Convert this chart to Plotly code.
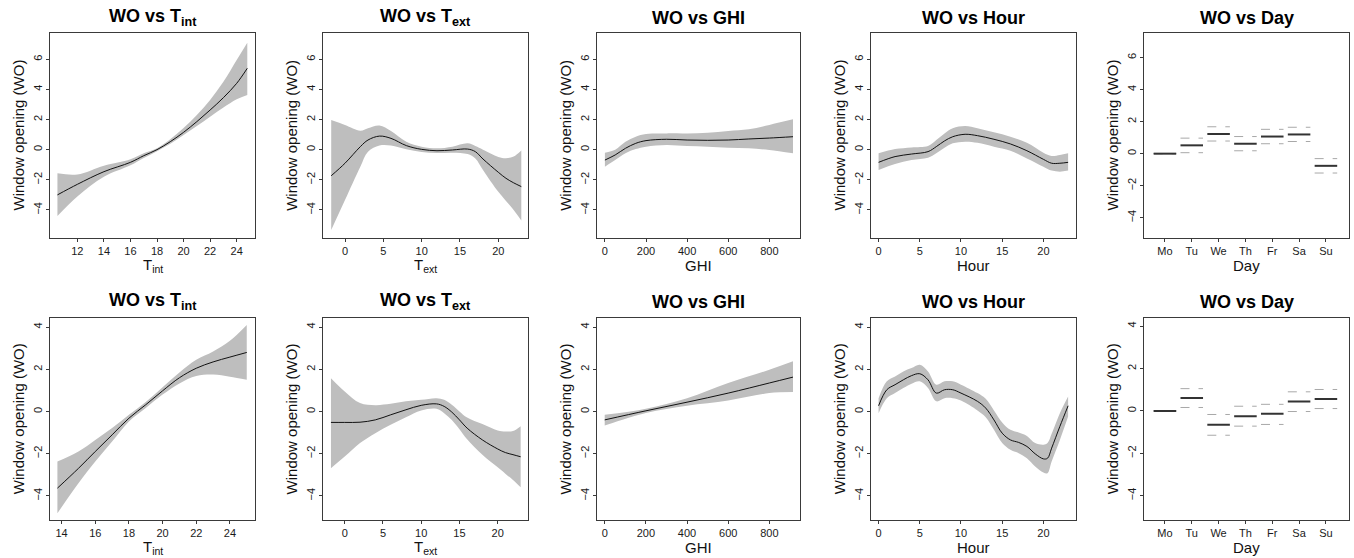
import plotly.graph_objects as go
from plotly.subplots import make_subplots

# ---------------- DATA ----------------
# Top row (model 1)
tint1_x   = [10.5, 12, 14, 16, 17, 18, 19, 20, 21, 22, 23, 24, 24.8]
tint1_fit = [-3.0, -2.3, -1.46, -0.84, -0.4, 0.0, 0.53, 1.15, 1.86, 2.63, 3.45, 4.4, 5.4]
tint1_lo  = [-4.4, -3.1, -1.8, -1.04, -0.55, -0.1, 0.4, 0.97, 1.57, 2.19, 2.79, 3.34, 3.63]
tint1_hi  = [-1.57, -1.64, -1.06, -0.64, -0.24, 0.1, 0.69, 1.44, 2.3, 3.3, 4.5, 5.95, 7.1]

text1_x   = [-1.8, 0, 2, 3, 4.5, 6, 8, 10, 12, 14, 16, 17, 18, 20, 21, 22, 23]
text1_fit = [-1.73, -0.9, 0.2, 0.64, 0.9, 0.75, 0.27, 0.02, -0.07, -0.02, 0.04, -0.13, -0.62, -1.5, -1.9, -2.2, -2.45]
text1_lo  = [-5.33, -3.34, -1.13, -0.13, 0.27, 0.27, 0.02, -0.15, -0.22, -0.2, -0.29, -0.58, -1.35, -2.8, -3.4, -4.0, -4.7]
text1_hi  = [1.97, 1.64, 1.26, 1.42, 1.6, 1.24, 0.53, 0.2, 0.09, 0.2, 0.42, 0.24, 0.0, -0.48, -0.57, -0.45, -0.05]

ghi1_x   = [0, 50, 100, 150, 200, 300, 400, 500, 600, 700, 800, 915]
ghi1_fit = [-0.69, -0.35, 0.09, 0.42, 0.6, 0.69, 0.64, 0.62, 0.64, 0.71, 0.77, 0.86]
ghi1_lo  = [-1.13, -0.69, -0.24, 0.04, 0.2, 0.31, 0.24, 0.2, 0.13, 0.09, -0.02, -0.24]
ghi1_hi  = [-0.2, 0.0, 0.53, 0.86, 1.04, 1.08, 1.08, 1.13, 1.24, 1.35, 1.64, 2.01]

hour1_x   = [0, 2, 4, 6, 7, 8, 9, 10.5, 12, 14, 16, 18, 20, 21, 22, 23]
hour1_fit = [-0.84, -0.46, -0.29, -0.13, 0.2, 0.58, 0.86, 1.02, 0.93, 0.69, 0.38, -0.07, -0.64, -0.9, -0.9, -0.84]
hour1_lo  = [-1.35, -0.95, -0.69, -0.53, -0.24, 0.13, 0.42, 0.53, 0.46, 0.2, -0.07, -0.58, -1.13, -1.39, -1.46, -1.39]
hour1_hi  = [-0.24, 0.04, 0.15, 0.24, 0.64, 1.08, 1.42, 1.57, 1.42, 1.15, 0.86, 0.46, -0.2, -0.42, -0.35, -0.24]

days = ["Mo", "Tu", "We", "Th", "Fr", "Sa", "Su"]
day1_fit = [0.0, 0.52, 1.23, 0.62, 1.07, 1.2, -0.76]
day1_lo  = [0.0, 0.06, 0.79, 0.18, 0.62, 0.76, -1.21]
day1_hi  = [0.0, 0.97, 1.68, 1.07, 1.52, 1.65, -0.31]

# Bottom row (model 2)
tint2_x   = [13.75, 15, 16, 17, 18, 19, 20, 21, 22, 23, 24, 25]
tint2_fit = [-3.64, -2.7, -1.9, -1.11, -0.32, 0.32, 0.98, 1.6, 2.05, 2.35, 2.58, 2.8]
tint2_lo  = [-4.83, -3.41, -2.38, -1.43, -0.48, 0.16, 0.8, 1.33, 1.68, 1.75, 1.65, 1.5]
tint2_hi  = [-2.38, -1.9, -1.35, -0.79, -0.16, 0.45, 1.15, 1.85, 2.45, 2.85, 3.35, 4.1]

text2_x   = [-1.8, 0, 2, 4, 6, 8, 10, 12, 13, 14, 15, 16, 18, 20, 21, 22, 23]
text2_fit = [-0.52, -0.52, -0.51, -0.4, -0.16, 0.08, 0.29, 0.36, 0.24, -0.03, -0.4, -0.79, -1.35, -1.78, -1.95, -2.05, -2.15]
text2_lo  = [-2.69, -2.14, -1.5, -1.03, -0.63, -0.27, 0.05, 0.13, -0.08, -0.4, -0.84, -1.32, -2.05, -2.65, -2.95, -3.25, -3.6]
text2_hi  = [1.58, 0.95, 0.4, 0.3, 0.36, 0.48, 0.55, 0.63, 0.55, 0.32, 0.0, -0.29, -0.6, -0.9, -0.95, -0.93, -0.7]

ghi2_x   = [0, 200, 400, 600, 800, 915]
ghi2_fit = [-0.4, 0.03, 0.44, 0.87, 1.35, 1.63]
ghi2_lo  = [-0.67, -0.07, 0.27, 0.52, 0.87, 0.92]
ghi2_hi  = [-0.16, 0.13, 0.63, 1.35, 1.98, 2.38]

hour2_x   = [0, 1, 2, 3, 4, 5, 6, 7, 8, 9, 10, 12, 13, 14, 15, 16, 17, 18, 19, 20, 20.5, 21, 22, 23]
hour2_fit = [0.27, 1.03, 1.27, 1.5, 1.7, 1.79, 1.5, 0.87, 1.03, 1.03, 0.87, 0.48, 0.16, -0.4, -1.03, -1.35, -1.47, -1.66, -2.01, -2.25, -2.22, -1.74, -0.71, 0.27]
hour2_lo  = [-0.08, 0.63, 0.88, 1.11, 1.32, 1.43, 1.11, 0.48, 0.63, 0.63, 0.52, 0.05, -0.27, -0.87, -1.5, -1.82, -1.98, -2.22, -2.61, -2.9, -2.93, -2.38, -1.35, -0.24]
hour2_hi  = [0.63, 1.43, 1.66, 1.9, 2.06, 2.22, 1.9, 1.27, 1.43, 1.43, 1.27, 0.87, 0.6, 0.05, -0.52, -0.87, -1.0, -1.16, -1.5, -1.58, -1.5, -1.06, -0.08, 0.71]

day2_fit = [0.0, 0.61, -0.66, -0.25, -0.14, 0.44, 0.56]
day2_lo  = [0.0, 0.16, -1.15, -0.72, -0.64, -0.03, 0.11]
day2_hi  = [0.0, 1.05, -0.17, 0.22, 0.31, 0.9, 1.01]

titles = ["WO vs T<sub>int</sub>", "WO vs T<sub>ext</sub>", "WO vs GHI", "WO vs Hour", "WO vs Day"]
xlabels = ["T<sub>int</sub>", "T<sub>ext</sub>", "GHI", "Hour", "Day"]
ylabel = "Window opening (WO)"

# ---------------- FIGURE ----------------
W, H = 1354, 558
BAND = "#bebebe"
fig = make_subplots(rows=2, cols=5)

def add_smooth(row, col, x, fit, lo, hi):
    fig.add_trace(go.Scatter(x=x, y=lo, mode="lines", line=dict(width=0, shape="spline", color=BAND),
                             showlegend=False, hoverinfo="skip"), row=row, col=col)
    fig.add_trace(go.Scatter(x=x, y=hi, mode="lines", line=dict(width=0, shape="spline", color=BAND),
                             fill="tonexty", fillcolor=BAND, showlegend=False, hoverinfo="skip"),
                  row=row, col=col)
    fig.add_trace(go.Scatter(x=x, y=fit, mode="lines", line=dict(width=1, shape="spline", color="#111111"),
                             showlegend=False), row=row, col=col)

def segs(vals):
    xs, ys = [], []
    for i, v in enumerate(vals):
        xs += [i + 1 - 0.42, i + 1 + 0.42, None]
        ys += [v, v, None]
    return xs, ys

def add_day(row, col, fit, lo, hi):
    for arr in (lo, hi):
        xs, ys = segs(arr)
        fig.add_trace(go.Scatter(x=xs, y=ys, mode="lines", line=dict(width=1, dash="dash", color="#a8a8a8"),
                                 showlegend=False), row=row, col=col)
    xs, ys = segs(fit)
    fig.add_trace(go.Scatter(x=xs, y=ys, mode="lines", line=dict(width=2, color="#333333"),
                             showlegend=False), row=row, col=col)

add_smooth(1, 1, tint1_x, tint1_fit, tint1_lo, tint1_hi)
add_smooth(1, 2, text1_x, text1_fit, text1_lo, text1_hi)
add_smooth(1, 3, ghi1_x, ghi1_fit, ghi1_lo, ghi1_hi)
add_smooth(1, 4, hour1_x, hour1_fit, hour1_lo, hour1_hi)
add_day(1, 5, day1_fit, day1_lo, day1_hi)
add_smooth(2, 1, tint2_x, tint2_fit, tint2_lo, tint2_hi)
add_smooth(2, 2, text2_x, text2_fit, text2_lo, text2_hi)
add_smooth(2, 3, ghi2_x, ghi2_fit, ghi2_lo, ghi2_hi)
add_smooth(2, 4, hour2_x, hour2_fit, hour2_lo, hour2_hi)
add_day(2, 5, day2_fit, day2_lo, day2_hi)

# panel geometry in pixels
lefts  = [50, 323.3, 597.3, 871, 1144]
rights = [255, 528.3, 800, 1075.7, 1349]
rows_tb = [(33, 238), (318.3, 520)]

xranges = [[9.94, 25.38], [-2.83, 23.91], [-37, 949], [-0.92, 23.92], [0.22, 7.86],
           [13.31, 25.49], [-2.8, 24.0], [-36, 949], [-0.92, 23.92], [0.22, 7.86]]
yranges = [[-5.86, 7.74]] * 4 + [[-5.27, 7.54]] + [[-5.15, 4.42]] * 4 + [[-5.15, 4.37]]
xtick_sets = [[12, 14, 16, 18, 20, 22, 24], [0, 5, 10, 15, 20], [0, 200, 400, 600, 800], [0, 5, 10, 15, 20],
              [1, 2, 3, 4, 5, 6, 7],
              [14, 16, 18, 20, 22, 24], [0, 5, 10, 15, 20], [0, 200, 400, 600, 800], [0, 5, 10, 15, 20],
              [1, 2, 3, 4, 5, 6, 7]]

FONT = "Liberation Sans, Arial, sans-serif"
axis_common = dict(showline=True, mirror=True, linecolor="#3a3a3a", linewidth=1, ticks="outside",
                   ticklen=3, tickcolor="#3a3a3a", showgrid=False, zeroline=False,
                   tickfont=dict(size=11, color="#1a1a1a", family=FONT))

annotations = []
for k in range(10):
    r, c = divmod(k, 5)
    top, bot = rows_tb[r]
    l, rr = lefts[c], rights[c]
    idx = "" if k == 0 else str(k + 1)
    xd = [l / W, rr / W]
    yd = [1 - bot / H, 1 - top / H]
    xa = dict(axis_common, domain=xd, range=xranges[k], tickvals=xtick_sets[k])
    if c == 4:
        xa["ticktext"] = days
    ya = dict(axis_common, domain=yd, range=yranges[k], tickangle=-90,
              tickvals=[-4, -2, 0, 2, 4, 6] if r == 0 else [-4, -2, 0, 2, 4])
    fig.layout["xaxis" + idx].update(xa)
    fig.layout["yaxis" + idx].update(ya)
    cx = (l + rr) / 2 / W
    # title
    annotations.append(dict(text="<b>" + titles[c] + "</b>", x=cx, xref="paper", y=1 - (17.5 if r == 0 else 301.5) / H,
                            yref="paper", showarrow=False, xanchor="center", yanchor="middle",
                            font=dict(size=18, color="#000000", family=FONT)))
    # x label
    annotations.append(dict(text=xlabels[c], x=cx, xref="paper", y=1 - (265 if r == 0 else 547) / H,
                            yref="paper", showarrow=False, xanchor="center", yanchor="middle",
                            font=dict(size=15, color="#111111", family=FONT)))
    # y label
    annotations.append(dict(text=ylabel, x=(l - 32) / W, xref="paper", y=(yd[0] + yd[1]) / 2,
                            yref="paper", showarrow=False, xanchor="center", yanchor="middle", textangle=-90,
                            font=dict(size=15, color="#111111", family=FONT)))

fig.update_layout(width=W, height=H, margin=dict(l=0, r=0, t=0, b=0), paper_bgcolor="white",
                  plot_bgcolor="white", showlegend=False, annotations=annotations,
                  font=dict(family=FONT))

fig.write_html("out.html", config={"displayModeBar": False},
               post_script="document.body.style.margin='0px';document.body.style.overflow='hidden';")
